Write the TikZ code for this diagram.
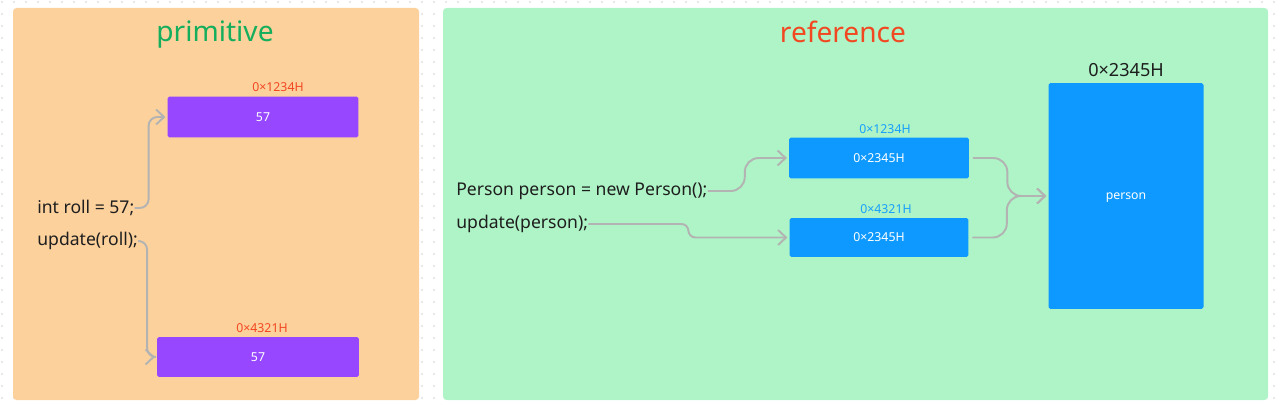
\documentclass[tikz,border=0pt]{standalone}
\usepackage{fontspec}
\setmainfont{Noto Sans}
\usetikzlibrary{arrows.meta,positioning}
\definecolor{cOrange}{HTML}{FCD19C}
\definecolor{cMint}{HTML}{AEF4C6}
\definecolor{cPurple}{HTML}{9747FF}
\definecolor{cBlue}{HTML}{0D99FF}
\definecolor{cLblue}{HTML}{18A0FB}
\definecolor{cRed}{HTML}{F24822}
\definecolor{cGreen}{HTML}{14AE5C}
\definecolor{cGray}{HTML}{B3B3B3}
\definecolor{cInk}{HTML}{1E1E1E}
\definecolor{cDot}{HTML}{D0D0D0}

\begin{document}
\begin{tikzpicture}[x=0.02cm,y=-0.02cm,
  panel/.style={rounded corners=2pt},
  title/.style={font=\fontsize{16}{18}\selectfont},
  code/.style={anchor=west,inner sep=0pt,text=cInk,font=\fontsize{10}{12}\selectfont},
  cell/.style={rounded corners=1pt,text=white,inner sep=0pt,font=\fontsize{7}{8}\selectfont},
  addr/.style={inner sep=0pt,font=\fontsize{7}{8}\selectfont},
  conn/.style={draw=cGray,line width=1.1pt,shorten >=1pt,
    -{Straight Barb[length=4.5pt,width=8.5pt]}}
]
\useasboundingbox (0,0) rectangle (1280,405);
% dotted canvas
\foreach \i in {2,14,...,1280}
  \foreach \j in {2,14,...,405}
    \fill[cDot] (\i,\j) circle (0.45pt);

% panels
\fill[panel,cOrange] (13,8) rectangle (419,400);
\fill[panel,cMint] (443,8) rectangle (1268,400);
\node[title,text=cGreen] (tprim) at (215,35) {primitive};
\node[title,text=cRed] (tref) at (843,32) {reference};

% primitive
\node[code] (roll) at (37,208) {int roll = 57;};
\node[code] (upd) at (37,241) {update(roll);};
\node[cell,fill=cPurple,minimum width=3.82cm,minimum height=0.82cm] (p1) at (263,117) {57};
\node[cell,fill=cPurple,minimum width=4.04cm,minimum height=0.8cm] (p2) at (258,357) {57};
\node[addr,text=cRed] (a1) at (278,87) {0×1234H};
\node[addr,text=cRed] (a2) at (262,328) {0×4321H};
\draw[conn,rounded corners=5pt] (roll.east) -- ++(14,0) |- (p1.west);
\draw[conn,rounded corners=5pt] (upd.east) -- ++(9,0) |- (p2.west);

% reference
\node[code] (pp) at (456,191) {Person person = new Person();};
\node[code] (up) at (456,224) {update(person);};
\node[cell,fill=cBlue,minimum width=3.6cm,minimum height=0.82cm] (b1) at (879,158) {0×2345H};
\node[cell,fill=cBlue,minimum width=3.58cm,minimum height=0.78cm] (b2) at (879,237.5) {0×2345H};
\node[addr,text=cLblue] (a3) at (885,129) {0×1234H};
\node[addr,text=cLblue] (a4) at (886,209) {0×4321H};
\node[cell,fill=cBlue,text depth=0pt,minimum width=3.1cm,minimum height=4.52cm] (obj) at (1126,196) {person};
\node[text=cInk,inner sep=0pt,font=\fontsize{10.3}{12}\selectfont] (a5) at (1126,70) {0×2345H};
\draw[conn,rounded corners=8pt] (pp.east) -- ++(37,0) |- (b1.west);
\draw[conn,rounded corners=4pt] (up.east) -- ++(100,0) |- (b2.west);
\draw[conn,rounded corners=8pt,shorten <=2pt] (b1.east) -- ++(38,0) |- (obj.west);
\draw[conn,rounded corners=8pt,shorten <=2pt] (b2.east) -- ++(38,0) |- (obj.west);
\end{tikzpicture}
\end{document}
